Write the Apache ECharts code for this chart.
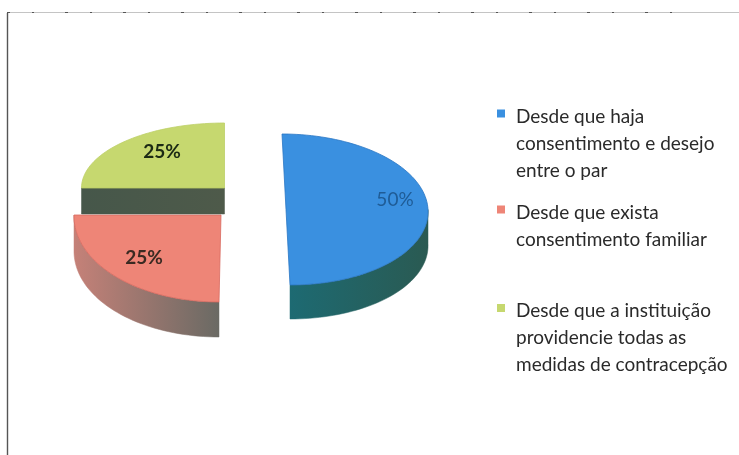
<!DOCTYPE html>
<html><head><meta charset="utf-8">
<style>html,body{margin:0;padding:0;background:#fff}#c{width:739px;height:455px;filter:blur(0.45px)}</style>
<script src="https://cdn.jsdelivr.net/npm/echarts@6/dist/echarts.min.js"></script>
</head><body><div id="c"></div>
<script>
const categories = [
  'Desde que haja\nconsentimento e desejo\nentre o par',
  'Desde que exista\nconsentimento familiar',
  'Desde que a instituição\nprovidencie todas as\nmedidas de contracepção'
];
const values = [50, 25, 25];
const percentLabels = ['50%', '25%', '25%'];
const faceColors = ['#3a90e0', '#ee8577', '#c6d86f'];

const geometry = [
  {cx:286, cy:209.5, rx:142, ry:75.5, depth:34, shear:4, label:[395,200], labelColor:'#1f5c96', labelWeight:'normal', edge:'#2a76c4',
   side:['#1d6a72','#2a5a52']},
  {cx:221, cy:215, rx:147, ry:87, depth:35, shear:-2, label:[144,258], labelColor:'#3a2a22', labelWeight:'bold', edge:'#d8695f',
   side:['#c58178','#6a6a64']},
  {cx:224.5, cy:188, rx:143, ry:65, depth:26, shear:0, label:[162,152], labelColor:'#1c2a14', labelWeight:'bold', edge:'#bccf66',
   side:['#46574a','#4e5a4a']}
];
const legendMarkerY = [113.5, 209.5, 308];
const LINE = 27;
const FONT = 19;
const ICON_W = 8;
const ICON_H = 14;
const total = values.reduce((a, b) => a + b, 0);
const startAngles = values.map((v, i) => -90 + values.slice(0, i).reduce((a, b) => a + b, 0) / total * 360);

function pt(g, deg, dy) {
  const t = deg * Math.PI / 180;
  return [g.cx + g.rx * Math.cos(t) + g.shear * Math.sin(t), g.cy + g.ry * Math.sin(t) + (dy || 0)];
}
function arc(g, a, b, dy) {
  const out = [], n = Math.max(2, Math.ceil(Math.abs(b - a) / 2));
  for (let i = 0; i <= n; i++) out.push(pt(g, a + (b - a) * i / n, dy));
  return out;
}
function makeRender(idx) {
  return function (params, api) {
    const v = api.value(0), g = geometry[idx];
    const a = startAngles[idx], b = a + v / total * 360;
    const center = [g.cx, g.cy];
    const lo = Math.max(a, 0), hi = Math.min(b, 180);
    let sidePts;
    if (hi > lo) {
      sidePts = arc(g, lo, hi, 0).concat(arc(g, hi, lo, g.depth));
    } else {
      const p = pt(g, a);
      sidePts = [center, p, [p[0], p[1] + g.depth], [g.cx, g.cy + g.depth]];
    }
    const xs = sidePts.map(p => p[0]);
    const sideFill = new echarts.graphic.LinearGradient(Math.min(...xs), 0, Math.max(...xs), 0,
      [{offset: 0, color: g.side[0]}, {offset: 1, color: g.side[1]}], true);
    return {
      type: 'group',
      children: [
        {type: 'polygon', shape: {points: sidePts}, style: {fill: sideFill, stroke: sideFill, lineWidth: 0.5}},
        {type: 'polygon', shape: {points: [center].concat(arc(g, a, b, 0))},
         style: {fill: faceColors[idx], stroke: g.edge, lineWidth: 0.8}},
        {type: 'text', x: g.label[0], y: g.label[1],
         style: {text: percentLabels[idx], fill: g.labelColor, align: 'center', verticalAlign: 'middle',
                 font: g.labelWeight + ' 19px Lato, sans-serif'}}
      ]
    };
  };
}
const chart = echarts.init(document.getElementById('c'), null, {renderer: 'canvas'});
chart.setOption({
  animation: false,
  backgroundColor: '#fff',
  legend: categories.map((name, i) => {
    const lines = name.split('\n').length;
    // leading blank lines keep the middle-aligned label's first line beside the marker
    const blockHeight = (2 * lines - 1) * LINE;
    return {
      data: [{name, icon: 'path://M0 0H' + ICON_W + 'V' + ICON_W + 'H0Z M0 ' + ICON_H + 'L0 ' + ICON_H}],
      orient: 'vertical', left: 497, padding: 0, selectedMode: false,
      top: legendMarkerY[i] - ICON_W / 2 + ICON_H / 2 - blockHeight / 2,
      itemWidth: ICON_W, itemHeight: ICON_H,
      formatter: n => '\n'.repeat(lines - 1) + n,
      textStyle: {fontFamily: 'Lato, sans-serif', fontSize: FONT, color: '#2a2a2a',
                  lineHeight: LINE, padding: [0, 0, 0, 6]}
    };
  }),
  graphic: [
    {type: 'line', shape: {x1: 7.5, y1: 13, x2: 7.5, y2: 455}, style: {stroke: '#555', lineWidth: 1.4}},
    {type: 'line', shape: {x1: 7, y1: 12.5, x2: 739, y2: 12.5}, style: {stroke: '#c4c4c4', lineWidth: 1}},
    {type: 'line', shape: {x1: 7, y1: 12.5, x2: 690, y2: 12.5}, style: {stroke: '#555', lineWidth: 1.2, lineDash: [3, 22, 2, 31]}}
  ],
  series: categories.map((name, i) => ({
    type: 'custom', name, coordinateSystem: 'none', silent: true,
    itemStyle: {color: faceColors[i]}, z: 2 + i,
    data: [[values[i]]], renderItem: makeRender(i)
  }))
});
</script></body></html>
